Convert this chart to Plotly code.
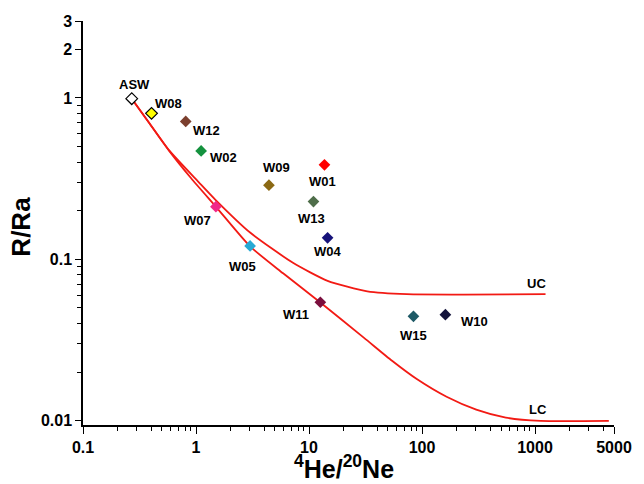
import math
import plotly.graph_objects as go

# ---- data ----
names = ["ASW", "W08", "W12", "W02", "W09", "W01", "W13", "W07", "W05", "W04", "W11", "W15", "W10"]
he_ne = [0.27, 0.404, 0.811, 1.11, 4.42, 13.7, 10.95, 1.50, 3.01, 14.6, 12.6, 84.0, 161.0]
r_ra = [0.99, 0.803, 0.716, 0.470, 0.288, 0.385, 0.228, 0.212, 0.121, 0.136, 0.0542, 0.0443, 0.0454]
colors = ["#FFFFFF", "#FFFF00", "#7B3F2E", "#14923E", "#8B6914", "#FF0000", "#4F6E4A",
          "#F0288A", "#27A9D4", "#16127A", "#7B0F3E", "#1E5A66", "#14143C"]

# mixing curve ASW - upper crust (UC)
uc_x = [0.27, 0.387, 0.579, 1.06, 1.494, 3.03, 7.21, 14.6, 32.8, 73.4, 1239]
uc_y = [0.99, 0.697, 0.473, 0.300, 0.233, 0.146, 0.0952, 0.0736, 0.0633, 0.0608, 0.0608]

# mixing curve ASW - lower crust (LC)
lc_x = [0.27, 0.387, 0.579, 0.902, 1.503, 3.01, 5.9, 12.6, 30.7, 54.3, 89.9, 165, 302, 552, 1119, 4500]
lc_y = [0.99, 0.697, 0.470, 0.319, 0.2114, 0.1203, 0.0819, 0.0540, 0.0326, 0.0235, 0.0181, 0.01406,
        0.0117, 0.01044, 0.00996, 0.00996]

x_major = [0.1, 1, 10, 100, 1000, 5000]
x_major_text = ["0.1", "1", "10", "100", "1000", "5000"]
x_minor = [0.2, 0.3, 0.4, 0.5, 0.6, 0.7, 0.8, 0.9, 2, 3, 4, 5, 6, 7, 8, 9,
           20, 30, 40, 50, 60, 70, 80, 90, 200, 300, 400, 500, 600, 700, 800, 900,
           2000, 3000, 4000]
y_major = [0.01, 0.1, 1, 2, 3]
y_major_text = ["0.01", "0.1", "1", "2", "3"]
y_minor = [0.02, 0.03, 0.04, 0.05, 0.06, 0.07, 0.08, 0.09,
           0.2, 0.3, 0.4, 0.5, 0.6, 0.7, 0.8, 0.9]

# label offsets in pixels (xshift, yshift)
label_shift = {
    "ASW": (3, 14), "W08": (17, 10), "W12": (21, -9), "W02": (22, -7),
    "W09": (8, 18), "W01": (-2, -17), "W13": (-2, -17), "W07": (-18, -14),
    "W05": (-8, -21), "W04": (0, -14), "W11": (-24, -12), "W15": (0, -19),
    "W10": (29, -7),
}

FONT = "Liberation Sans, Arial, sans-serif"
RED = "#F21A14"

fig = go.Figure()
for cx, cy in ((uc_x, uc_y), (lc_x, lc_y)):
    fig.add_trace(go.Scatter(x=cx, y=cy, mode="lines",
                             line=dict(color=RED, width=1.8, shape="spline", smoothing=0.6),
                             hoverinfo="skip", showlegend=False))

outlines = [1.2 if n in ("ASW", "W08") else 0 for n in names]
fig.add_trace(go.Scatter(
    x=he_ne, y=r_ra, mode="markers", text=names,
    marker=dict(symbol="diamond", size=9, color=colors,
                line=dict(color="black", width=outlines)),
    showlegend=False))

annotations = []
for n, xv, yv in zip(names, he_ne, r_ra):
    dx, dy = label_shift[n]
    annotations.append(dict(x=math.log10(xv), y=math.log10(yv), xref="x", yref="y",
                            text="<b>%s</b>" % n, showarrow=False, xshift=dx, yshift=dy,
                            font=dict(family=FONT, size=13, color="black")))

annotations.append(dict(x=math.log10(1000), y=math.log10(uc_y[-1]), xref="x", yref="y", text="<b>UC</b>",
                        showarrow=False, yshift=11, xshift=1, font=dict(family=FONT, size=13, color="black")))
annotations.append(dict(x=math.log10(1000), y=math.log10(lc_y[-1]), xref="x", yref="y", text="<b>LC</b>",
                        showarrow=False, yshift=11, xshift=3, font=dict(family=FONT, size=13, color="black")))

# axis titles
annotations.append(dict(x=0.492, y=-0.105, xref="paper", yref="paper",
                        text="<b><sup>4</sup>He/<sup>20</sup>Ne</b>", showarrow=False,
                        font=dict(family=FONT, size=25, color="black"), yanchor="middle", xanchor="center"))
annotations.append(dict(x=-0.1175, y=0.490, xref="paper", yref="paper", text="<b>R/Ra</b>",
                        textangle=-90, showarrow=False,
                        font=dict(family=FONT, size=26, color="black"), xanchor="center", yanchor="middle"))

fig.update_layout(
    width=644, height=484,
    margin=dict(l=83, r=25, t=21, b=59),
    paper_bgcolor="white", plot_bgcolor="white",
    annotations=annotations,
    xaxis=dict(type="log", range=[-1, math.log10(5000)], showgrid=False, zeroline=False,
               showline=True, linecolor="black", linewidth=1.5,
               tickmode="array", tickvals=x_major, ticktext=["<b>%s</b>" % t for t in x_major_text],
               ticks="outside", ticklen=7, tickwidth=1.3, tickcolor="black",
               tickfont=dict(family=FONT, size=16, color="black"),
               minor=dict(tickmode="array", tickvals=x_minor, ticks="outside", ticklen=4,
                          tickwidth=1.2, tickcolor="black", showgrid=False)),
    yaxis=dict(type="log", range=[math.log10(0.0094), math.log10(3)], showgrid=False, zeroline=False,
               showline=True, linecolor="black", linewidth=1.5,
               tickmode="array", tickvals=y_major, ticktext=["<b>%s</b>" % t for t in y_major_text],
               ticks="outside", ticklen=6, tickwidth=1.3, tickcolor="black",
               tickfont=dict(family=FONT, size=16, color="black"),
               minor=dict(tickmode="array", tickvals=y_minor, ticks="outside", ticklen=4,
                          tickwidth=1.2, tickcolor="black", showgrid=False)),
)

fig.write_html("out.html")
